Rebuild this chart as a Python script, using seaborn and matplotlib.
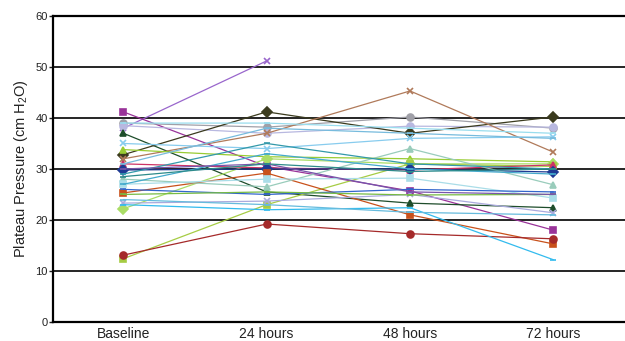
import numpy as np
import pandas as pd
import matplotlib
matplotlib.use("Agg")
import matplotlib.pyplot as plt
import seaborn as sns

times = ["Baseline", "24 hours", "48 hours", "72 hours"]

nan = np.nan
p01 = [38.0, 51.2, nan, nan]
p02 = [41.2, 30.5, 25.7, 18.0]
p03 = [39.0, 38.2, 40.2, 38.0]
p04 = [38.5, 37.0, 38.4, 38.2]
p05 = [37.0, 25.5, 23.3, 22.4]
p06 = [32.8, 41.2, 37.0, 40.2]
p07 = [32.0, 37.0, 45.3, 33.3]
p08 = [33.8, 32.4, 32.0, 31.4]
p09 = [22.2, 32.0, 31.0, 31.0]
p10 = [12.4, 23.0, 31.0, 30.5]
p11 = [31.0, 30.2, 29.8, 30.8]
p12 = [29.8, 30.0, 30.0, 29.4]
p13 = [25.3, 29.2, 21.0, 15.3]
p14 = [13.1, 19.2, 17.3, 16.3]
p15 = [35.0, 34.0, 36.0, 36.3]
p16 = [28.0, 26.5, 34.0, 26.9]
p17 = [27.0, 28.0, 28.2, 24.3]
p18 = [26.0, 25.0, 26.0, 25.5]
p19 = [23.3, 23.7, 25.0, 21.4]
p20 = [23.0, 22.0, 22.4, 12.2]
p21 = [29.0, 35.0, 31.0, 30.0]
p22 = [39.0, 39.0, 38.0, 37.0]
p23 = [27.0, 33.0, 30.0, 29.0]
p24 = [25.0, 25.5, 24.9, 25.0]
p25 = [30.0, 31.0, 25.5, 25.0]
p26 = [31.0, 38.0, 37.0, 36.0]
p27 = [28.5, 31.0, 29.5, 30.0]
p28 = [24.0, 23.0, 21.5, 21.0]

patients = [p01, p02, p03, p04, p05, p06, p07, p08, p09, p10, p11, p12, p13, p14,
            p15, p16, p17, p18, p19, p20, p21, p22, p23, p24, p25, p26, p27, p28]

colors = ["#9966CC", "#993399", "#A0A0A8", "#B8B8E0", "#1E4D2B", "#3B3B1E", "#B07A5A",
          "#99CC33", "#AADD66", "#A6CC44", "#CC3366", "#1F3A93", "#C8511B", "#A52A2A",
          "#88CCEE", "#99CCBB", "#AADDE8", "#3366CC", "#AAAADD", "#33BBEE", "#3399AA",
          "#99DDEE", "#44AACC", "#77BB44", "#7755AA", "#77BBDD", "#2E8B8B", "#66BBDD"]
markers = ["x", "s", "o", "o", "^", "D", "x", "^", "D", "s", "^", "D", "s", "o",
           "x", "^", "s", "_", "x", "_", "_", "_", "_", "_", "_", "_", "_", "_"]

rows = []
for i, vals in enumerate(patients):
    for t, v in zip(times, vals):
        rows.append({"patient": f"P{i+1:02d}", "time": t, "value": v})
df = pd.DataFrame(rows)

sns.set_theme(style="white")
plt.rcParams["font.family"] = ["Liberation Sans", "DejaVu Sans"]
plt.rcParams["mathtext.default"] = "regular"

fig = plt.figure(figsize=(6.25, 3.41), dpi=100)
ax = fig.add_axes([0.085, 0.056, 0.915, 0.897])

for i in range(len(patients)):
    sub = df[df["patient"] == f"P{i+1:02d}"]
    sns.lineplot(data=sub, x="time", y="value", color=colors[i], marker=markers[i],
                 markersize=5, markeredgecolor=colors[i], markeredgewidth=1.2,
                 linewidth=0.9, estimator=None, errorbar=None, ax=ax, sort=False)

for yv in [10, 20, 30, 40, 50]:
    ax.axhline(yv, color="black", linewidth=1.2, zorder=0)

ax.set_ylim(0, 60)
ax.set_xlim(-0.49, 3.5)
ax.set_yticks([0, 10, 20, 30, 40, 50, 60])
ax.set_xlabel("")
ax.set_ylabel("Plateau Pressure (cm H$_2$O)", fontsize=10.5, color="#222222", labelpad=4)
ax.tick_params(axis="y", labelsize=8, colors="#222222", length=3, width=1, direction="out", left=True, pad=1)
ax.tick_params(axis="x", labelsize=10, colors="#222222", length=0, pad=4)
for s in ["left", "bottom", "top"]:
    ax.spines[s].set_color("black")
    ax.spines[s].set_linewidth(1.6)
ax.spines["right"].set_visible(False)

fig.savefig("out.png", dpi=100)
